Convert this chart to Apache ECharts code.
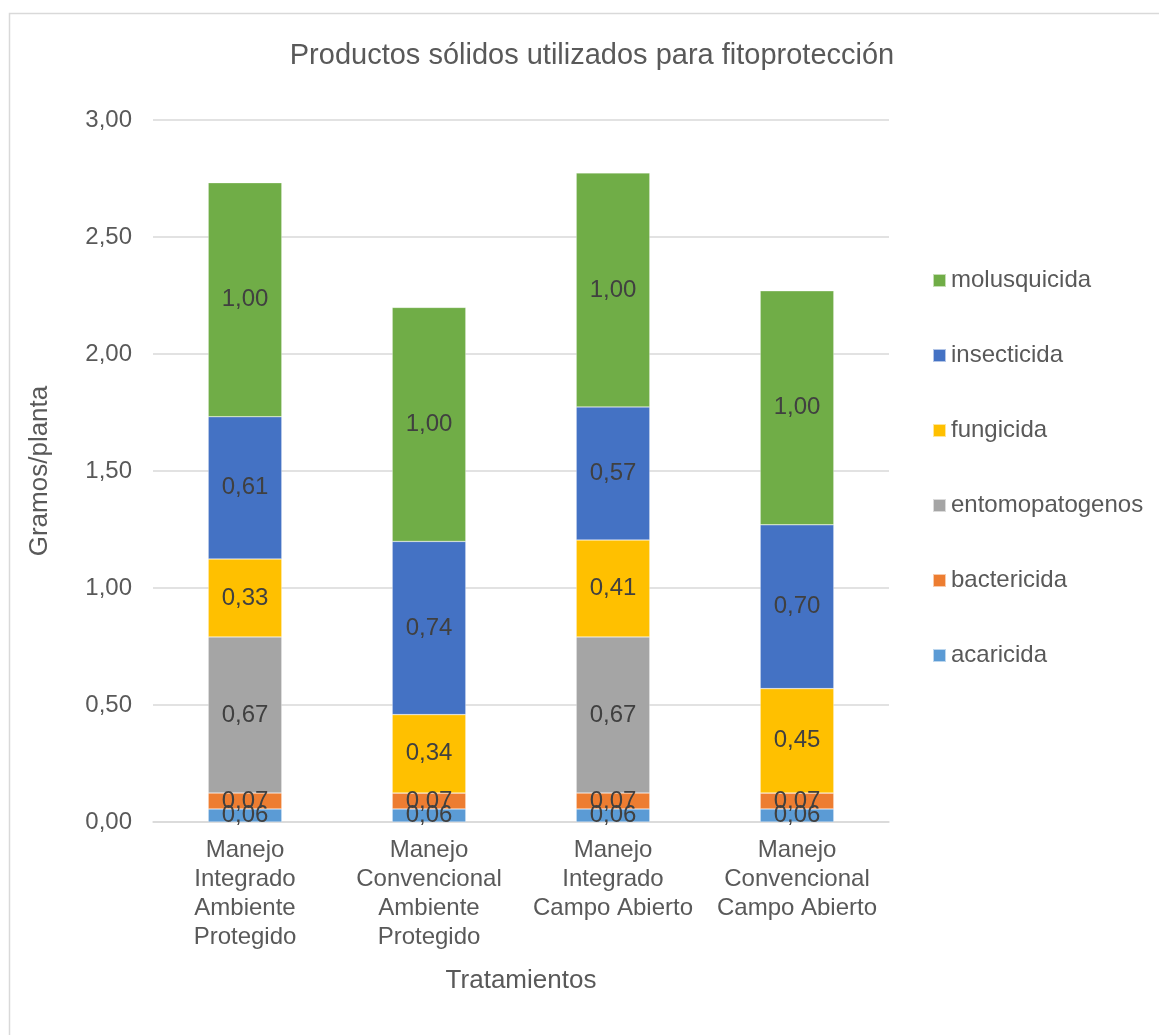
<!DOCTYPE html>
<html>
<head>
<meta charset="utf-8">
<script src="https://cdn.jsdelivr.net/npm/echarts@6/dist/echarts.min.js"></script>
<style>html,body{margin:0;padding:0;background:#fff}#c{width:1159px;height:1035px}</style>
</head>
<body>
<div id="c"></div>
<script>
const categories = ['Manejo\nIntegrado\nAmbiente\nProtegido', 'Manejo\nConvencional\nAmbiente\nProtegido', 'Manejo\nIntegrado\nCampo Abierto', 'Manejo\nConvencional\nCampo Abierto'];
const acaricida = [0.056, 0.056, 0.056, 0.056];
const bactericida = [0.068, 0.068, 0.068, 0.068];
const entomopatogenos = [0.667, 0, 0.667, 0];
const fungicida = [0.333, 0.335, 0.414, 0.446];
const insecticida = [0.608, 0.74, 0.569, 0.70];
const molusquicida = [1.0, 1.0, 1.0, 1.0];
const yTicks = [0, 0.5, 1, 1.5, 2, 2.5, 3];

const FONT = '"Liberation Sans", Arial, sans-serif';
const seriesDefs = [
  ['acaricida', acaricida, '#5B9BD5'],
  ['bactericida', bactericida, '#ED7D31'],
  ['entomopatogenos', entomopatogenos, '#A5A5A5'],
  ['fungicida', fungicida, '#FFC000'],
  ['insecticida', insecticida, '#4472C4'],
  ['molusquicida', molusquicida, '#70AD47']
];
const chart = echarts.init(document.getElementById('c'));
chart.setOption({
  animation: false,
  backgroundColor: '#fff',
  graphic: [{type: 'rect', left: 7, top: 11, shape: {width: 1300, height: 1200}, style: {fill: 'none', stroke: '#d9d9d9', lineWidth: 1.5}, silent: true}],
  title: {text: 'Productos sólidos utilizados para fitoprotección', left: 587, textAlign: 'center', top: 36,
    textStyle: {fontFamily: FONT, fontSize: 29, fontWeight: 'normal', color: '#595959'}},
  legend: {orient: 'vertical', left: 927, top: 261, itemWidth: 13, itemHeight: 13, itemGap: 46, icon: 'rect',
    data: seriesDefs.map(s => s[0]).reverse(),
    textStyle: {fontFamily: FONT, fontSize: 24, color: '#595959', lineHeight: 29}},
  grid: {left: 153, right: 270, top: 120, bottom: 213, containLabel: false},
  xAxis: {type: 'category', data: categories,
    name: 'Tratamientos', nameLocation: 'middle', nameGap: 146,
    nameTextStyle: {fontFamily: FONT, fontSize: 26, color: '#595959'},
    axisLine: {lineStyle: {color: '#d9d9d9', width: 1.5}}, axisTick: {show: false},
    axisLabel: {fontFamily: FONT, fontSize: 24, color: '#595959', lineHeight: 29, margin: 14, interval: 0}},
  yAxis: {type: 'value', min: 0, max: 3, interval: 0.5,
    name: 'Gramos/planta', nameLocation: 'middle', nameGap: 100, nameRotate: 90,
    nameTextStyle: {fontFamily: FONT, fontSize: 26, color: '#595959'},
    axisLine: {show: false}, axisTick: {show: false},
    splitLine: {lineStyle: {color: '#d9d9d9', width: 1.5}},
    axisLabel: {fontFamily: FONT, fontSize: 24, color: '#595959', margin: 21,
      formatter: v => yTicks.includes(v) ? v.toFixed(2).replace('.', ',') : ''}},
  series: seriesDefs.map(([name, data, color]) => ({
    name, type: 'bar', stack: 'total', data, barWidth: '40%',
    itemStyle: {color, borderColor: 'rgba(255,255,255,0.6)', borderWidth: 0.5},
    label: {show: true, position: 'inside', fontFamily: FONT, fontSize: 24, color: '#404040',
      formatter: p => p.value ? p.value.toFixed(2).replace('.', ',') : ''}
  }))
});
</script>
</body>
</html>
